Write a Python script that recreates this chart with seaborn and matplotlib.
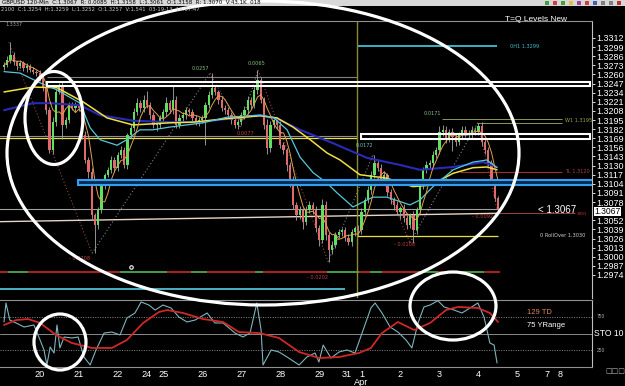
import numpy as np
import pandas as pd
import matplotlib
matplotlib.use("Agg")
import matplotlib.pyplot as plt
from matplotlib.patches import Ellipse, Rectangle
import seaborn as sns

# ---------------- data ----------------
first_open = 1.3270
closes = [
    1.3273, 1.3281, 1.3288, 1.3278, 1.3272, 1.3276, 1.3269, 1.3272, 1.3266, 1.3264,
    1.3262, 1.3255, 1.3241, 1.3209, 1.3152, 1.3192, 1.3235, 1.3245, 1.3188, 1.3195,
    1.3216, 1.3212, 1.3217, 1.3212, 1.3174, 1.3138, 1.3121, 1.3060, 1.3045, 1.3067,
    1.3102, 1.3117, 1.3124, 1.3138, 1.3127, 1.3145, 1.3152, 1.3131, 1.3174, 1.3184,
    1.3206, 1.3219, 1.3212, 1.3224, 1.3216, 1.3202, 1.3188, 1.3188, 1.3198, 1.3206,
    1.3219, 1.3209, 1.3224, 1.3188, 1.3198, 1.3202, 1.3209, 1.3206, 1.3198, 1.3192,
    1.3195, 1.3198, 1.3216, 1.3231, 1.3241, 1.3235, 1.3224, 1.3212, 1.3209, 1.3202,
    1.3195, 1.3188, 1.3192, 1.3202, 1.3209, 1.3224, 1.3216, 1.3238, 1.3252, 1.3224,
    1.3188, 1.3155, 1.3188, 1.3195, 1.3188, 1.3160, 1.3152, 1.3131, 1.3110, 1.3074,
    1.3060, 1.3067, 1.3050, 1.3067, 1.3074, 1.3067, 1.3041, 1.3024, 1.3074, 1.3031,
    1.3010, 1.3017, 1.3031, 1.3035, 1.3038, 1.3027, 1.3021, 1.3035, 1.3041, 1.3038,
    1.3064, 1.3081, 1.3095, 1.3117, 1.3134, 1.3127, 1.3110, 1.3117, 1.3092, 1.3081,
    1.3074, 1.3064, 1.3070, 1.3055, 1.3045, 1.3060, 1.3038, 1.3067, 1.3102, 1.3124,
    1.3131, 1.3134, 1.3145, 1.3152, 1.3178, 1.3181, 1.3167, 1.3178, 1.3171, 1.3164,
    1.3174, 1.3181, 1.3177, 1.3174, 1.3181, 1.3178, 1.3186, 1.3164, 1.3152, 1.3134,
    1.3107, 1.3084, 1.3067,
]
up_wick = [  # pips above the body
    5, 6, 18, 4, 3, 5, 3, 4, 3, 4,
    3, 4, 4, 6, 5, 8, 4, 3, 5, 4,
    4, 5, 4, 3, 4, 5, 4, 5, 3, 4,
    5, 3, 4, 6, 4, 5, 6, 4, 3, 5,
    6, 8, 5, 7, 12, 4, 5, 6, 4, 5,
    9, 4, 20, 5, 6, 4, 5, 3, 4, 4,
    5, 4, 5, 6, 21, 4, 3, 5, 4, 5,
    4, 3, 4, 5, 6, 5, 4, 6, 14, 4,
    4, 8, 6, 5, 4, 5, 4, 3, 4, 5,
    4, 6, 3, 5, 6, 4, 5, 4, 8, 5,
    4, 5, 4, 5, 3, 4, 5, 4, 3, 4,
    5, 4, 6, 5, 11, 4, 5, 6, 3, 5,
    4, 6, 3, 5, 4, 3, 5, 4, 3, 4,
    5, 4, 6, 4, 8, 7, 5, 4, 6, 5,
    4, 6, 5, 4, 5, 4, 5, 6, 4, 5,
    4, 3, 3,
]
dn_wick = [  # pips below the body
    4, 3, 5, 4, 6, 3, 4, 5, 3, 4,
    4, 5, 4, 5, 4, 5, 6, 3, 20, 5,
    4, 3, 5, 4, 6, 5, 8, 6, 40, 5,
    4, 5, 3, 4, 6, 5, 4, 5, 6, 4,
    5, 4, 6, 5, 4, 6, 5, 8, 4, 6,
    5, 4, 6, 5, 5, 4, 6, 4, 5, 4,
    5, 4, 39, 4, 5, 4, 6, 4, 5, 4,
    5, 4, 6, 4, 5, 6, 5, 4, 6, 5,
    6, 8, 5, 4, 6, 5, 6, 8, 10, 6,
    8, 6, 10, 5, 4, 6, 5, 8, 5, 7,
    17, 6, 5, 4, 6, 5, 4, 6, 5, 8,
    5, 6, 4, 5, 4, 5, 6, 4, 5, 6,
    8, 5, 10, 6, 5, 4, 18, 5, 4, 5,
    4, 5, 6, 4, 5, 6, 5, 4, 20, 6,
    4, 5, 6, 5, 4, 5, 4, 6, 5, 4,
    5, 4, 3,
]

blue_idx = [0, 8.9, 14.2, 23.4, 29.5, 39.7, 51.1, 60.3, 78.8, 84.9, 91.1, 101.2, 111.7, 121.8, 128, 138.2, 147.4, 151.7]
blue_val = [1.3209, 1.3219, 1.3219, 1.3216, 1.3202, 1.3194, 1.3192, 1.3192, 1.3202, 1.3195, 1.3181, 1.3162, 1.3141, 1.3131, 1.3124, 1.3128, 1.3135, 1.3128]
yellow_idx = [0, 8.9, 16.3, 24.3, 31.7, 39.7, 51.1, 58.2, 68.6, 78.8, 84, 88.9, 94.2, 99.4, 103.4, 109.5, 117.8, 125.8, 131.1, 138.2, 144.3, 148.6, 151.7]
yellow_val = [1.3235, 1.3242, 1.3241, 1.3221, 1.3198, 1.3188, 1.3191, 1.3192, 1.3197, 1.3201, 1.3198, 1.3185, 1.3167, 1.3148, 1.3138, 1.3117, 1.3112, 1.3100, 1.3102, 1.3119, 1.3127, 1.3128, 1.3124]
cyan_idx = [0, 4.9, 11.1, 16.3, 23.4, 26.5, 29.5, 34.8, 37.8, 41.8, 45.8, 51.1, 61.2, 68.6, 78.8, 82.8, 87.1, 91.1, 95.1, 99.4,
            102.5, 107.4, 113.5, 117.8, 124.9, 128, 132, 138.2, 144.3, 148.6, 151.7]
cyan_val = [1.3264, 1.3262, 1.3248, 1.3238, 1.3219, 1.3184, 1.3167, 1.3159, 1.3167, 1.3181, 1.3181, 1.3185, 1.3191, 1.3199, 1.3202, 1.3199, 1.3181, 1.3142, 1.3120, 1.3105,
            1.3091, 1.3071, 1.3085, 1.3085, 1.3074, 1.3081, 1.3100, 1.3124, 1.3135, 1.3138, 1.3127]

zz_idx = [1.5, 27.1, 63.4, 72.6, 78.2, 99.7, 113.5, 124.9, 145.8, 151.7]
zz_val = [1.3306, 1.3005, 1.3262, 1.3185, 1.3266, 1.2993, 1.3145, 1.3020, 1.3191, 1.3067]

k_idx = [0, 0.6, 1.8, 3.7, 6.2, 9.2, 11.1, 12.3, 13.2, 14.2, 15.4, 16.3, 17.2, 18.5, 20.9, 22.8, 24.6, 26.5, 28.3, 30.8,
         33.2, 35.7, 37.8, 40.3, 42.2, 44.6, 46.5, 48.9, 51.4, 53.8, 56.3, 58.8, 62.5, 64.9, 67.4, 71.1, 73.5, 75.7, 77.8, 79.1,
         79.7, 82.2, 84.6, 87.1, 90.8, 93.2, 95.7, 96.9, 98.2, 100.6, 103.1, 105.5, 108.0, 110.5, 112.9, 114.2, 116.3, 118.8, 121.2, 123.7,
         125.5, 127.4, 129.2, 131.1, 133.5, 135.4, 138.5, 140.9, 143.4, 145.8, 147.7, 149.5, 150.8, 151.7]
k_val = [672, 955, 700, 657, 597, 627, 403, 254, 30, 299, 209, 627, 284, 448, 433, 448, 149, 30, 254, 507,
         522, 478, 731, 806, 970, 925, 850, 925, 881, 746, 672, 701, 806, 657, 657, 507, 448, 507, 955, 552,
         30, 254, 224, 149, 30, 149, 209, 75, 328, 134, 224, 254, 209, 552, 881, 955, 806, 597, 522, 403,
         284, 657, 896, 925, 990, 896, 850, 806, 881, 955, 746, 358, 328, 60]
d_idx = [0, 3.7, 7.4, 11.1, 16, 20.9, 27.1, 33.2, 37.8, 42.8, 47.7, 50.2, 55.1, 61.2, 67.4, 72.3, 78.5, 84.6, 90.8, 96.9,
         103.1, 109.2, 112.9, 116.3, 121.2, 126.2, 131.1, 136, 139.7, 145.8, 149.5, 152]
d_val = [627, 700, 716, 657, 478, 358, 284, 284, 403, 657, 821, 850, 806, 716, 672, 522, 507, 433, 224, 134,
         149, 209, 284, 507, 672, 552, 657, 850, 896, 881, 806, 672]

price_ticks = [1.3312, 1.3299, 1.3286, 1.3273, 1.3260, 1.3247, 1.3234, 1.3221, 1.3208, 1.3195, 1.3182, 1.3169, 1.3156,
               1.3143, 1.3130, 1.3117, 1.3104, 1.3091, 1.3078, 1.3052, 1.3039, 1.3026, 1.3013, 1.3000, 1.2987, 1.2974]
last_price = 1.3067
last_slot = 1.3065   # axis slot where the last-price box sits
day_pos = [11, 23, 35, 44, 49, 61, 73, 85, 97, 105.5, 110, 122, 134, 146, 158, 167, 171]
day_lbl = ["20", "21", "22", "24", "25", "26", "27", "28", "29", "31", "1\nApr", "2", "3", "4", "5", "7", "8"]

# price levels: (price low, price high, start bar, end bar)
white_box1 = (1.32430, 1.32495, 13.2, 180.3)
white_box2 = (1.31680, 1.31745, 109.8, 180.3)
blue_box = (1.31017, 1.31088, 22.8, 181.5)
green_red_segs = [(1.2, 7.4), (35.7, 50.2), (57.5, 62.5), (77.2, 79.7), (99.4, 109.2), (112.6, 116.3), (127.4, 133.5), (139.7, 147.7)]

# ---------------- style ----------------
sns.set_theme(style="dark")
plt.rcParams['font.family'] = ['Liberation Sans', 'DejaVu Sans']

W, H = 625, 386
fig = plt.figure(figsize=(6.25, 3.86), dpi=100)
fig.patch.set_facecolor('black')

XL = (-4 / 3.25, (592 - 4) / 3.25)
ax = fig.add_axes([0, 1 - 298 / H, 592 / W, (298 - 21) / H])
ax.set_facecolor('black')

# candles
n = len(closes)
idx = np.arange(n)
cl = np.array(closes)
op = np.array([first_open] + closes[:-1])
top = np.maximum(op, cl)
bot = np.minimum(op, cl)
hi = top + np.array(up_wick) * 1e-4
lo = bot - np.array(dn_wick) * 1e-4
upc = cl >= op
ax.vlines(idx, lo, hi, color='#a8a8a8', lw=0.6, zorder=3)
ax.bar(idx, np.maximum(top - bot, 0.00008), bottom=bot, width=0.75,
       color=np.where(upc, '#5fe05f', '#e26a6a'), edgecolor='none', zorder=4)

# moving averages
fast = pd.Series(closes).rolling(5, min_periods=1).mean()
sns.lineplot(x=blue_idx, y=blue_val, ax=ax, color='#2a2ab8', linewidth=1.5, zorder=5)
sns.lineplot(x=yellow_idx, y=yellow_val, ax=ax, color='#f0e040', linewidth=1.1, zorder=5)
sns.lineplot(x=cyan_idx, y=cyan_val, ax=ax, color='#55c8d8', linewidth=0.9, zorder=5)
sns.lineplot(x=idx, y=fast.values, ax=ax, color='#e0a050', linewidth=0.7, zorder=5)

# zig-zag
for j in range(len(zz_idx) - 1):
    c = '#8a4a40' if zz_val[j + 1] < zz_val[j] else '#808080'
    ax.plot(zz_idx[j:j + 2], zz_val[j:j + 2], ls=(0, (1, 2)), color=c, lw=0.8, zorder=2)

# levels
ax.hlines(1.3256, 13.2, 108.6, color='#808080', lw=0.8, zorder=2)
ax.hlines(1.3172, -2, 108.6, color='#909090', lw=0.8, zorder=2)
ax.hlines(1.31687, -2, 108.6, color='#e8e040', lw=0.9, zorder=2)
ax.hlines(1.30296, 108.6, 152, color='#e8e040', lw=0.9, zorder=2)
ax.hlines(1.30681, -2, 152.6, color='#a0a0a0', lw=0.8, zorder=2)
ax.plot([-2, 152], [1.3050, 1.3062], color='#e8d4c4', lw=1.0, zorder=2)
ax.hlines(1.29542, -2, 104.9, color='#50c0d0', lw=1.3, zorder=2)
ax.hlines(1.33006, 108.6, 151.7, color='#40c0d0', lw=1.3, zorder=2)
ax.hlines(1.31965, 134.8, 171.7, color='#8a9a50', lw=0.7, zorder=2)
ax.hlines(1.31910, 145.5, 171.7, color='#8a9a50', lw=0.7, zorder=2)
ax.hlines(1.31209, 140.3, 171.7, color='#a03030', lw=0.8, zorder=2)
ax.hlines(1.30624, 151.7, 175.7, color='#a04040', lw=0.7, zorder=2)
ax.hlines(1.2978, -2, 152.5, color='#b02020', lw=1.4, zorder=2)
for a, b in green_red_segs:
    ax.hlines(1.2978, a, b, color='#40a040', lw=1.4, zorder=2)
ax.axvline(108.6, color='#8a8a30', lw=1.0, zorder=2)

for (p0, p1, x0, x1) in [white_box1, white_box2]:
    ax.add_patch(Rectangle((x0, p0), x1 - x0, p1 - p0, fill=False, edgecolor='white', lw=1.5, zorder=6))
p0, p1, x0, x1 = blue_box
ax.add_patch(Rectangle((x0, p0), x1 - x0, p1 - p0, facecolor='#0a2a50', edgecolor='#30a0f0', lw=1.5, zorder=6))

ax.plot([39.1], [1.2985], marker='o', ms=2.5, mfc='none', mec='white', mew=0.8, zorder=6)

# small level / swing labels
def lab(x, y, s, c, fs=3.6, ha='left'):
    ax.text(x, y, s, color=c, fontsize=fs, ha=ha, va='center', zorder=7, family='DejaVu Sans')
lab(155.7, 1.3300, "0H1 1.3299", '#40c0d0')
lab(172.5, 1.3195, "W1 1.3195", '#9aaa50')
lab(172.5, 1.3121, "TL 1.3120", '#b04040')
lab(165.0, 1.3030, "0 RollOver 1.3030", '#d0d0d0')
lab(176.3, 1.3061, "3081", '#c03030', fs=3)
lab(60.3, 1.3268, "0.0257", '#80c080', ha='center')
lab(77.8, 1.3276, "0.0065", '#80c080', ha='center')
lab(110.8, 1.3158, "0.0172", '#70c0c0', ha='center')
lab(131.7, 1.3204, "0.0171", '#80c080', ha='center')
lab(74.2, 1.3176, "0.0077", '#c04040', ha='center')
lab(123.4, 1.3018, "- 0.0108", '#c04040', ha='center')
lab(23.4, 1.2997, "- 0.0208", '#c04040', ha='center')
lab(96.6, 1.2970, "- 0.0202", '#c04040', ha='center')
lab(147.4, 1.3057, "- 0.0092", '#c04040', ha='center')
ax.text(164.3, 1.30665, "< 1.3067", color='white', fontsize=7, ha='left', va='center', zorder=7)

ax.set_xlim(*XL)
ax.set_ylim(1.29412, 1.33362)
ax.set_xticks([])
ax.yaxis.tick_right()
ax.set_yticks(price_ticks)
ax.set_yticklabels([f"{v:.4f}" for v in price_ticks])
ax.tick_params(axis='y', colors='white', labelcolor='white', labelsize=6.5, length=2, pad=1, width=0.6)
ax.set_xlabel(''); ax.set_ylabel('')
for s in ['left', 'bottom']:
    ax.spines[s].set_visible(False)
ax.spines['top'].set_color('#909090'); ax.spines['top'].set_linewidth(0.8)
ax.spines['right'].set_color('#c0c0c0'); ax.spines['right'].set_linewidth(0.8)
ax.grid(False)
ax.text(1.004, last_slot, f"{last_price:.4f}", transform=ax.get_yaxis_transform(), color='black', fontsize=6.2,
        ha='left', va='center', bbox=dict(facecolor='white', edgecolor='none', pad=0.0), zorder=8, clip_on=False)

# ---------------- stochastic panel ----------------
ax2 = fig.add_axes([0, 1 - 367 / H, 592 / W, 67 / H])
ax2.set_facecolor('black')
for yv, ls in [(750, (0, (1, 1.5))), (500, '-'), (250, (0, (1, 1.5)))]:
    ax2.axhline(yv, color='#8a8a8a', lw=0.7, ls=ls, zorder=1)
sns.lineplot(x=k_idx, y=k_val, ax=ax2, color='#7fb4bc', linewidth=0.8, zorder=3)
sns.lineplot(x=d_idx, y=d_val, ax=ax2, color='#d02828', linewidth=1.3, zorder=4)
ax2.set_xlim(*XL)
ax2.set_ylim(0, 1000)
ax2.set_yticks([])
ax2.set_xticks(day_pos)
ax2.set_xticklabels(day_lbl, linespacing=0.85)
ax2.tick_params(axis='x', colors='white', labelcolor='white', labelsize=6.6, length=0, pad=2)
ax2.set_xlabel(''); ax2.set_ylabel('')
ax2.grid(False)
ax2.spines['left'].set_visible(False)
for s in ['top', 'bottom']:
    ax2.spines[s].set_color('#909090'); ax2.spines[s].set_linewidth(0.8)
ax2.spines['right'].set_color('#c0c0c0'); ax2.spines['right'].set_linewidth(0.8)
ax2.text(161, 820, "129 TD", color='#e0805a', fontsize=5.5, va='center')
ax2.text(161, 612, "75 YRange", color='white', fontsize=5.5, va='center')
yt = ax2.get_yaxis_transform()
ax2.text(1.004, 500, "STO 10", transform=yt, color='white', fontsize=6.2, va='center', clip_on=False)
ax2.text(1.008, 750, "750", transform=yt, color='#b0b0b0', fontsize=3.5, va='center', clip_on=False)
ax2.text(1.008, 250, "250", transform=yt, color='#b0b0b0', fontsize=3.5, va='center', clip_on=False)

# ---------------- overlay: header + hand-drawn ellipses ----------------
ov = fig.add_axes([0, 0, 1, 1], zorder=20)
ov.set_xlim(0, W); ov.set_ylim(H, 0); ov.axis('off'); ov.patch.set_alpha(0)
ov.add_patch(Rectangle((0, 0), W, 5.5, facecolor='#d8d8d8', edgecolor='none'))
ov.text(2, 2.8, "GBPUSD 120-Min  C:1.3067  R: 0.0085  H:1.3158  L:1.3061  O:1.3158  R: 1.3070  V:43.1K  018",
        fontsize=4, color='black', va='center', family='DejaVu Sans')
ov.text(1, 9, "2100  C:1.3254  H:1.3259  L:1.3252  O:1.3257  V:1,541  03-19-13  14:07:47",
        fontsize=3.8, color='#c8c8c8', va='center', family='DejaVu Sans')
for k, c in enumerate(['#40a040', '#d04040', '#40a040', '#e0c040', '#a040a0', '#d04040', '#4060c0', '#808080', '#808080', '#c03030']):
    ov.add_patch(Rectangle((545 + k * 8, 0.8), 4, 4, facecolor=c, edgecolor='none'))
ov.text(536, 19.5, "T=Q Levels New", color='white', fontsize=6, ha='center', va='center')
ov.text(5, 24.5, "1.3337", color='#a0a0a0', fontsize=3.5, va='center', family='DejaVu Sans')
ov.text(605, 371, "\u25a1\u25a1\u25a1", color='#b0b0b0', fontsize=5, va='center', family='DejaVu Sans')
for (cx, cy, w, h) in [(263, 153, 512, 304), (54, 118, 58, 93), (60, 342, 52, 56), (453, 306, 86, 68)]:
    ov.add_patch(Ellipse((cx, cy), w, h, fill=False, edgecolor='white', lw=2.3))

fig.savefig('out.png', dpi=100, facecolor='black')
